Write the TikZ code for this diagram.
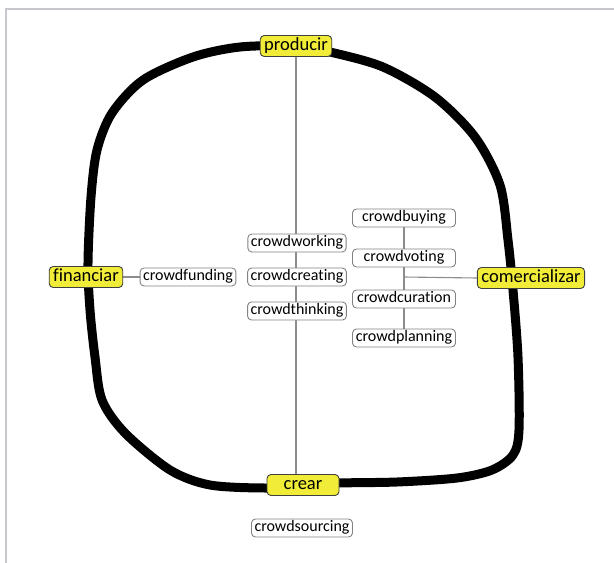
\documentclass[tikz,border=0pt]{standalone}
\usepackage{fontspec}
\setmainfont{Carlito}[Ligatures=NoCommon]
\usetikzlibrary{backgrounds}
\definecolor{hiyellow}{RGB}{240,236,56}
\definecolor{boxline}{RGB}{130,130,130}
\definecolor{linkgrey}{RGB}{140,140,140}
\definecolor{framegrey}{RGB}{200,200,204}
\tikzset{
  mainbox/.style={draw=black!75, fill=hiyellow, rounded corners=4pt, line width=0.9pt,
    font=\fontsize{18.5}{20}\selectfont, inner xsep=4pt, inner ysep=0pt, minimum height=21pt, text height=12.5pt, text depth=4pt},
  subbox/.style={draw=boxline, fill=white, rounded corners=4pt, line width=0.9pt,
    font=\fontsize{16}{18}\selectfont, inner xsep=3pt, inner ysep=0pt, minimum height=18pt, text height=11pt, text depth=3.5pt},
  link/.style={draw=linkgrey, line width=1.1pt},
  loopline/.style={draw=black, line width=9pt, line cap=round, line join=round},
}
\begin{document}
\begin{tikzpicture}[x=1pt,y=-1pt]
\useasboundingbox (0,0) rectangle (614,563);
\draw[framegrey, line width=1.5pt] (6,563) -- (6,9) -- (614,9);

\node[mainbox] (producir) at (296,46) {producir};
\node[mainbox] (financiar) at (86,277) {financiar};
\node[mainbox] (comerc) at (531,278) {comercializar};
\node[mainbox, minimum width=72pt] (crear) at (303,485) {crear};

\node[subbox] (cfund) at (188,277) {crowdfunding};
\node[subbox] (cwork) at (297,243) {crowdworking};
\node[subbox] (ccreat) at (297,277) {crowdcreating};
\node[subbox] (cthink) at (297,311) {crowdthinking};
\node[subbox, minimum width=103pt] (cbuy) at (404,218) {crowdbuying};
\node[subbox, minimum width=103pt] (cvote) at (404,258) {crowdvoting};
\node[subbox, minimum width=103pt] (ccur) at (404,299) {crowdcuration};
\node[subbox, minimum width=103pt] (cplan) at (404,338) {crowdplanning};
\node[subbox] (csrc) at (302,528) {crowdsourcing};

\coordinate (junc) at (404,277);

\begin{pgfonlayer}{background}
\draw[loopline] plot[smooth cycle, tension=0.5] coordinates {
  (296,46) (240,47) (193,57) (143,80) (112,113) (97,150) (91,197) (88,263) (90,310)
  (95,357) (102,400) (125,433) (170,470) (210,485) (267,488) (303,485)
  (337,483) (397,482) (457,478) (492,470) (513,455) (519,430) (518,357)
  (513,290) (508,240) (500,185) (475,137) (435,97) (383,67) (330,52)};
\draw[link] (producir.south) -- (producir.south |- crear.north);
\draw[link] (financiar.east) -- (cfund.west);
\draw[link] (cbuy.south) -- (cplan.north);
\draw[link] (junc) -- (comerc.west);
\end{pgfonlayer}
\end{tikzpicture}
\end{document}
